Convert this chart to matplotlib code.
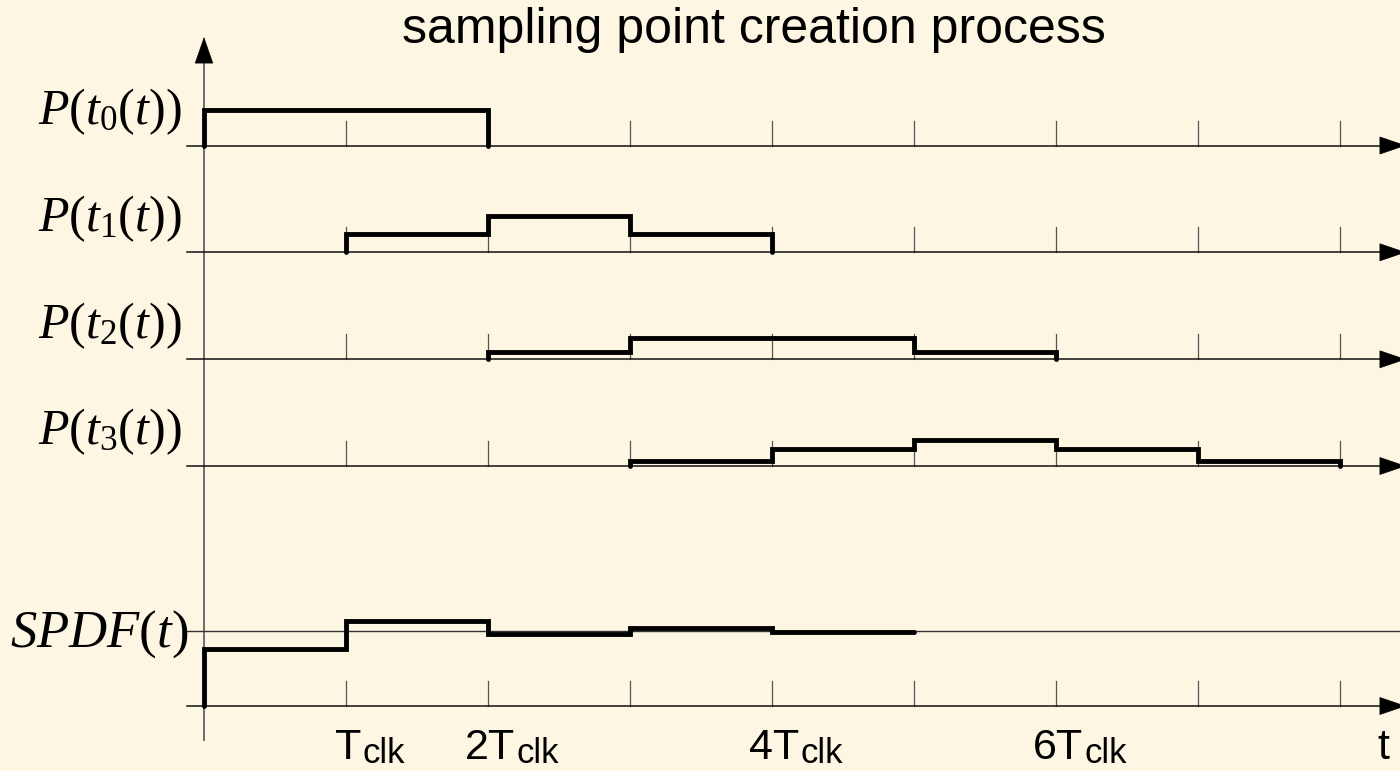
import matplotlib
matplotlib.use('Agg')
import matplotlib.pyplot as plt

plt.rcParams['mathtext.fontset'] = 'custom'
plt.rcParams['mathtext.rm'] = 'Liberation Serif'
plt.rcParams['mathtext.it'] = 'Liberation Serif:italic'
plt.rcParams['mathtext.sf'] = 'Liberation Sans'
plt.rcParams['font.family'] = ['Liberation Sans', 'DejaVu Sans']

# ---------------- data ----------------
title = 'sampling point creation process'
row_labels = [r'$P(t_0(t))$', r'$P(t_1(t))$', r'$P(t_2(t))$', r'$P(t_3(t))$']
row_starts = [0, 1, 2, 3]          # start of each distribution in Tclk
p0 = [0.50, 0.50]
p1 = [0.25, 0.50, 0.25]
p2 = [0.10, 0.30, 0.30, 0.10]
p3 = [0.065, 0.23, 0.36, 0.23, 0.065]
rows = [p0, p1, p2, p3]
spdf_label = r'$SPDF(t)$'
spdf = [0.79, 1.18, 0.995, 1.08, 1.03]
spdf_ref = 1.045
grid_ticks = [1, 2, 3, 4, 5, 6, 7, 8]
xtick_pos = [1, 2, 4, 6]
xtick_main = ['T', '2T', '4T', '6T']
xtick_sub = ['clk', 'clk', 'clk', 'clk']
axis_label = 't'

# ---------------- layout ----------------
W, H = 1400, 771
X0, DX = 204, 142          # pixel of t=0, pixels per Tclk
UNIT = 72                  # pixels per amplitude unit
row_base = [145.5, 252.3, 359.3, 466.0]
spdf_base = 706.0
TICK = 25
BG = '#FDF6E3'

fig = plt.figure(figsize=(W / 100, H / 100), dpi=100, facecolor=BG)
ax = fig.add_axes([0, 0, 1, 1])
ax.set_facecolor(BG)
ax.set_xlim(-X0 / DX, (W - X0) / DX)
ax.set_ylim(H, 0)
ax.axis('off')

px = 1.0 / DX
x_left = (187 - X0) / DX
x_tip = (1406 - X0) / DX
arrow_style = '-|>,head_length=1.0,head_width=0.34'


def h_axis(y):
    ax.plot([x_left, x_tip - 24 * px], [y, y], color='#111111', lw=1.1, zorder=2)
    ax.annotate('', xy=(x_tip, y), xytext=(x_tip - 25 * px, y),
                arrowprops=dict(arrowstyle=arrow_style, mutation_scale=18,
                                color='black', lw=0.5, shrinkA=0, shrinkB=0),
                annotation_clip=False)
    for t in grid_ticks:
        ax.plot([t, t], [y, y - TICK], color='#555555', lw=0.9, zorder=1)


def step_path(start, vals, base, drop_end=True):
    xs = [start]
    ys = [base]
    for i, v in enumerate(vals):
        xs += [start + i, start + i + 1]
        ys += [base - v * UNIT, base - v * UNIT]
    if drop_end:
        xs.append(start + len(vals))
        ys.append(base)
    return xs, ys


# vertical axis
ax.plot([0, 0], [740, 60], color='#6e6e6e', lw=1.4, zorder=1)
ax.annotate('', xy=(0, 37), xytext=(0, 62),
            arrowprops=dict(arrowstyle='-|>,head_length=1.0,head_width=0.35',
                            mutation_scale=18, color='black', lw=0.5,
                            shrinkA=0, shrinkB=0))

for base, start, vals, lab in zip(row_base, row_starts, rows, row_labels):
    h_axis(base)
    xs, ys = step_path(start, vals, base)
    ax.plot(xs, ys, color='black', lw=3.5, solid_joinstyle='miter',
            solid_capstyle='round', zorder=3)
    ax.text((182 - X0) / DX, base - 0.5 * UNIT + 2, lab, ha='right', va='center',
            fontsize=36, color='black')

# SPDF
h_axis(spdf_base)
ref_y = spdf_base - spdf_ref * UNIT
ax.plot([x_left, (W - X0) / DX], [ref_y, ref_y], color='#333333', lw=1.0, zorder=2)
xs, ys = step_path(0, spdf, spdf_base, drop_end=False)
ax.plot(xs, ys, color='black', lw=3.5, solid_joinstyle='miter',
        solid_capstyle='round', zorder=3)
ax.text((188 - X0) / DX, ref_y + 3, spdf_label, ha='right', va='center',
        fontsize=38, color='black')

# x tick labels: main part centred on tick, larger subscript appended
fig.canvas.draw()
renderer = fig.canvas.get_renderer()
for t, main, sub in zip(xtick_pos, xtick_main, xtick_sub):
    tm = ax.text(t + 2 * px, 759, main, ha='center', va='baseline', fontsize=31,
                 color='black')
    bb = tm.get_window_extent(renderer)
    xs_data = ax.transData.inverted().transform((bb.x1, 0))[0]
    ax.text(xs_data + 1 * px, 763, sub, ha='left', va='baseline', fontsize=25,
            color='black')
ax.text((1383 - X0) / DX, 759, axis_label, ha='center', va='baseline',
        fontsize=31, color='black')

fig.text(754 / W, 1 - 30 / H, title, ha='center', va='center', fontsize=36,
         color='black')

fig.savefig('out.png', dpi=100, facecolor=BG)
